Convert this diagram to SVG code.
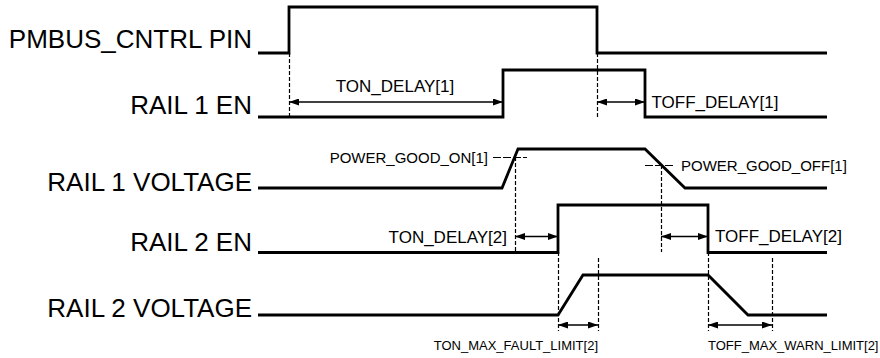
<svg xmlns="http://www.w3.org/2000/svg" width="880" height="358" viewBox="0 0 880 358">
  <style>
    .sig { fill: none; stroke: #000; stroke-width: 2.8; stroke-linejoin: miter; }
    .dash { fill: none; stroke: #000; stroke-width: 1.2; stroke-dasharray: 4 2; }
    .arr { fill: none; stroke: #000; stroke-width: 1.4; marker-start: url(#ah); marker-end: url(#ah); }
    .lbl { font-family: "Liberation Sans", Arial, sans-serif; font-size: 26px; fill: #000; text-anchor: end; }
    .t17 { font-family: "Liberation Sans", Arial, sans-serif; font-size: 17px; fill: #000; }
    .t15 { font-family: "Liberation Sans", Arial, sans-serif; font-size: 15px; fill: #000; }
    .t13 { font-family: "Liberation Sans", Arial, sans-serif; font-size: 13px; fill: #000; }
  </style>
  <defs>
    <marker id="ah" viewBox="0 0 10 7" refX="10" refY="3.5" markerWidth="10" markerHeight="7" markerUnits="userSpaceOnUse" orient="auto-start-reverse">
      <path d="M0,0 L10,3.5 L0,7 Z" fill="#000"/>
    </marker>
  </defs>
  <rect width="880" height="358" fill="#fff"/>

  <g id="pmbus">
    <text class="lbl" x="252" y="48">PMBUS_CNTRL PIN</text>
    <path class="sig" d="M258,53 H289 V7 H597 V53 H827"/>
  </g>
  <g id="rail1en">
    <text class="lbl" x="252" y="114">RAIL 1 EN</text>
    <path class="sig" d="M258,117 H503 V70 H645 V117 H827"/>
  </g>
  <g id="rail1v">
    <text class="lbl" x="252" y="191">RAIL 1 VOLTAGE</text>
    <path class="sig" d="M258,188 H502 L518,149 H645 L685,188 H827"/>
  </g>
  <g id="rail2en">
    <text class="lbl" x="252" y="251">RAIL 2 EN</text>
    <path class="sig" d="M258,252.5 H558 V205 H708 V252.5 H827"/>
  </g>
  <g id="rail2v">
    <text class="lbl" x="252" y="317">RAIL 2 VOLTAGE</text>
    <path class="sig" d="M258,315 H558 L583,275 H708 L748,315 H827"/>
  </g>

  <g id="connectors">
    <path class="dash" d="M289.5,53 V117"/>
    <path class="dash" d="M597.5,53 V117"/>
    <path class="dash" d="M515.5,157 V252"/>
    <path class="dash" d="M661.5,165 V252"/>
    <path class="dash" d="M558.5,252 V331"/>
    <path class="dash" d="M598.5,258 V331"/>
    <path class="dash" d="M708.5,252 V331"/>
    <path class="dash" d="M772.5,258 V331"/>
    <path class="dash" d="M493,157.5 H527" style="stroke-dasharray: 8 2"/>
    <path class="dash" d="M645,165.5 H675" style="stroke-dasharray: 8 2"/>

    <line class="arr" x1="289" y1="102" x2="503" y2="102"/>
    <line class="arr" x1="597" y1="102" x2="645" y2="102"/>
    <line class="arr" x1="515" y1="236.5" x2="558" y2="236.5"/>
    <line class="arr" x1="661" y1="236.5" x2="708" y2="236.5"/>
    <line class="arr" x1="558" y1="325" x2="598" y2="325"/>
    <line class="arr" x1="708" y1="325" x2="772" y2="325"/>
  </g>

  <g id="labels">
    <text class="t17" x="395" y="92" text-anchor="middle">TON_DELAY[1]</text>
    <text class="t17" x="651.5" y="108">TOFF_DELAY[1]</text>
    <text class="t17" x="507" y="243" text-anchor="end">TON_DELAY[2]</text>
    <text class="t17" x="715" y="242">TOFF_DELAY[2]</text>
    <text class="t15" x="488" y="162.5" text-anchor="end">POWER_GOOD_ON[1]</text>
    <text class="t15" x="681" y="170.5">POWER_GOOD_OFF[1]</text>
    <text class="t13" x="598" y="350" text-anchor="end">TON_MAX_FAULT_LIMIT[2]</text>
    <text class="t13" x="708" y="350">TOFF_MAX_WARN_LIMIT[2]</text>
  </g>
</svg>
